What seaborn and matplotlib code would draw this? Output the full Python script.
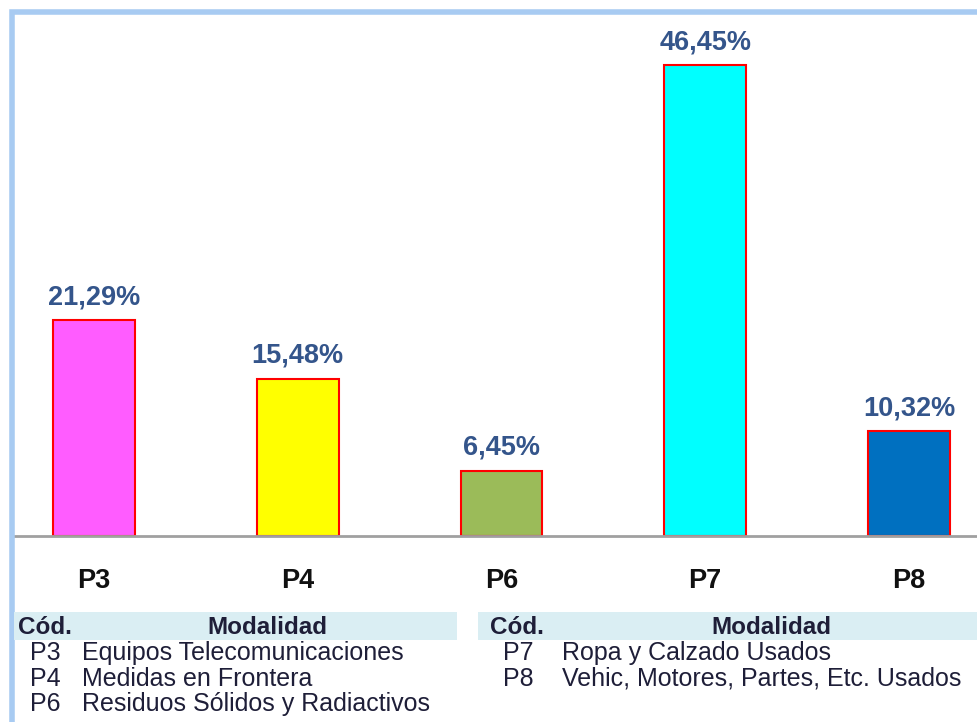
import numpy as np
import pandas as pd
import matplotlib
matplotlib.use("Agg")
import matplotlib.pyplot as plt
from matplotlib.patches import Rectangle
import seaborn as sns

# Data
codes = ["P3", "P4", "P6", "P7", "P8"]
values = [21.29, 15.48, 6.45, 46.45, 10.32]
bar_colors = ["#FF5CFF", "#FFFF00", "#9BBB59", "#00FFFF", "#0070C0"]
left_codes = ["P3", "P4", "P6"]
left_names = ["Equipos Telecomunicaciones", "Medidas en Frontera", "Residuos Sólidos y Radiactivos"]
right_codes = ["P7", "P8"]
right_names = ["Ropa y Calzado Usados", "Vehic, Motores, Partes, Etc. Usados"]

df = pd.DataFrame({"cod": codes, "pct": values})

sns.set_style("white")
plt.rcParams["font.family"] = ["Liberation Sans", "DejaVu Sans"]

W, H = 977, 722
fig = plt.figure(figsize=(W / 100, H / 100), dpi=100)

# axes in pixel coords: left 14, baseline at y=536, top 14
ax = fig.add_axes([14 / W, (H - 536) / H, (W - 14) / W, (536 - 14) / H])
sns.barplot(data=df, x="cod", y="pct", hue="cod", palette=bar_colors, legend=False,
            saturation=1, width=0.4, edgecolor="#FF0000", linewidth=1.5, ax=ax)

ax.set_xlim(-0.393, 4.334)
ax.set_ylim(0, 51.5)
for s in ["top", "right", "left"]:
    ax.spines[s].set_visible(False)
ax.spines["bottom"].set_color("#A0A0A0")
ax.spines["bottom"].set_linewidth(2)
ax.set_yticks([])
ax.set_xlabel("")
ax.set_ylabel("")
ax.tick_params(axis="x", length=0, pad=23, labelsize=19.5)
for lab in ax.get_xticklabels():
    lab.set_fontweight("bold")
    lab.set_color("#111111")

for i, v in enumerate(values):
    ax.text(i, v + 1.0, f"{v:.2f}%".replace(".", ","), ha="center", va="bottom",
            fontsize=19.5, fontweight="bold", color="#34558B")

# light blue frame
fig.patches.append(Rectangle((12 / W, -0.1), 1.2, (H - 12) / H + 0.1, transform=fig.transFigure,
                             fill=False, edgecolor="#A8CBF2", linewidth=4, zorder=0))


def fy(y):
    return (H - y) / H


def fx(x):
    return x / W


# legend tables (y values are text baselines in pixels)
txt_col = "#1E1E38"
for x0, x1, cx_code, cx_mod, cx_rowcode, cx_name, cds, nms in [
        (14, 457, 18, 267, 30, 82, left_codes, left_names),
        (478, 990, 490, 771, 503, 562, right_codes, right_names)]:
    fig.patches.append(Rectangle((fx(x0), fy(640)), fx(x1) - fx(x0), fy(612) - fy(640),
                                 transform=fig.transFigure, facecolor="#DAEEF3", edgecolor="none"))
    fig.text(fx(cx_code), fy(634), "Cód.", fontsize=17.5, fontweight="bold", color=txt_col,
             ha="left", va="baseline")
    fig.text(fx(cx_mod), fy(634), "Modalidad", fontsize=17.5, fontweight="bold", color=txt_col,
             ha="center", va="baseline")
    for k, (c, n) in enumerate(zip(cds, nms)):
        y = 660 + k * 25.5
        fig.text(fx(cx_rowcode), fy(y), c, fontsize=18, color=txt_col, ha="left", va="baseline")
        fig.text(fx(cx_name), fy(y), n, fontsize=18, color=txt_col, ha="left", va="baseline")

fig.savefig("out.png", dpi=100)
